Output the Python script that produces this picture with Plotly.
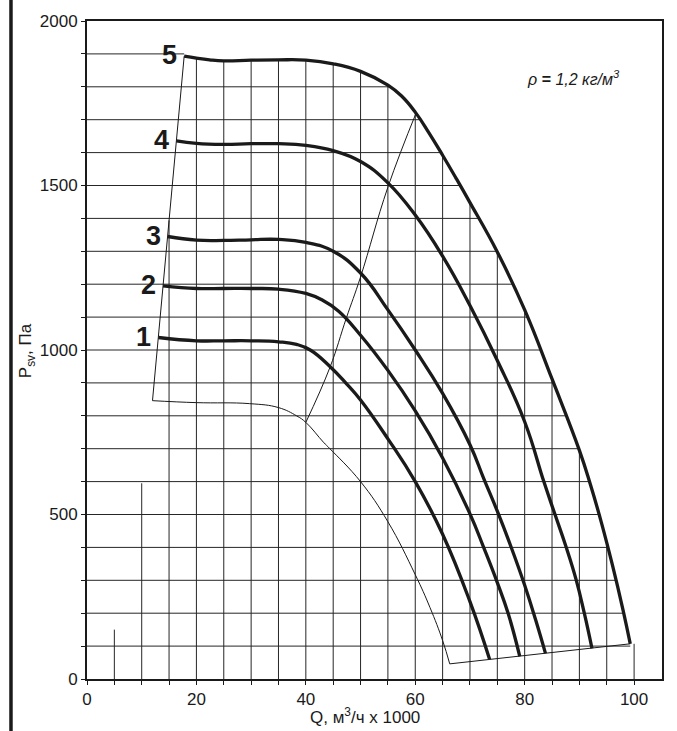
import numpy as np
import plotly.graph_objects as go

# Fan characteristics: Q (thousand m3/h) vs static pressure P_sv (Pa)
q1 = [13.05, 20, 25, 30, 35, 38.3, 40.8, 44.4, 47.4, 50, 55, 60, 65, 70, 73.6]
p1 = [1038, 1028, 1028, 1028, 1025, 1017, 1000, 950, 898, 848, 730, 600, 440, 235, 59]

q2 = [13.9, 20, 25, 30, 35, 40, 43, 46, 50, 55, 60, 65, 70, 72.5, 75, 77, 79.1]
p2 = [1195, 1187, 1187, 1187, 1185, 1172, 1152, 1118, 1045, 938, 815, 672, 502, 400, 293, 198, 69]

q3 = [14.75, 20, 25, 30, 35, 40, 45, 50, 55, 60, 65, 70, 72.5, 75, 77.5, 80, 82, 83.8]
p3 = [1345, 1334, 1333, 1335, 1336, 1327, 1300, 1234, 1122, 1000, 868, 712, 610, 510, 402, 285, 180, 78]

q4 = [16.35, 20, 25, 30, 35, 40, 45, 50, 55, 60, 65, 70, 75, 80, 83.5, 85.5, 87.5, 89.4, 90.9, 92.3]
p4 = [1636, 1628, 1625, 1627, 1627, 1622, 1606, 1573, 1508, 1410, 1285, 1135, 968, 782, 600, 502, 405, 302, 200, 93]

q5 = [17.76, 20, 22.4, 25, 30, 35, 40, 45, 50, 55, 57.5, 60, 62.5, 65, 67.5, 70, 75, 80, 85, 90, 92, 94, 96, 98, 99.3]
p5 = [1893, 1887, 1882, 1879, 1881, 1882, 1881, 1870, 1847, 1805, 1772, 1723, 1660, 1592, 1521, 1448, 1298, 1122, 912, 695, 592, 477, 349, 208, 107]

curve_names = ["1", "2", "3", "4", "5"]

# Lower working-range curve
q_low = [11.97, 20, 29.7, 35, 38.3, 40, 43.2, 44.4, 50, 55, 60, 62.7, 65, 66.3]
p_low = [846, 840, 837, 825, 800, 780, 720, 700, 600, 478, 317, 217, 117, 46]

# Left and bottom limits of the working range
q_left = [11.97, 17.76]
p_left = [846, 1893]
q_bottom = [66.3, 99.3]
p_bottom = [46, 107]

# System line
q_sys = [40, 44.4, 47.4, 50, 55, 60.2]
p_sys = [780, 947, 1097, 1222, 1495, 1722]

# Short grid verticals left of the working range
q_short = [5, 10]
p_short = [150, 595]

x_ticks = list(range(0, 101, 5))
x_labels = [str(v) if v % 20 == 0 else "" for v in x_ticks]
y_ticks = list(range(0, 2001, 100))
y_labels = [str(v) if v % 500 == 0 else "" for v in y_ticks]

INK = "#1a1a1a"
GRID = "#262626"
FONT = "Liberation Sans, Arial, sans-serif"

fig = go.Figure()

# Grid: horizontals run from the axis to curve 5, verticals from 0 up to the envelope
q5a, p5a = np.array(q5), np.array(p5)
i_top = int(np.argmax(q5a >= 40))
desc_q, desc_p = q5a[i_top:], p5a[i_top:]
gx, gy = [], []
for level in y_ticks[1:-1]:
    if level > p5a.max():
        x_end = q5a[0]
    else:
        x_end = float(np.interp(level, desc_p[::-1], desc_q[::-1]))
    gx += [0, x_end, None]
    gy += [level, level, None]
for xv in x_ticks[1:]:
    if xv in q_short:
        top = p_short[q_short.index(xv)]
    elif xv < q5[0]:
        top = float(np.interp(xv, q_left, p_left))
    else:
        top = float(np.interp(xv, q5, p5))
    gx += [xv, xv, None]
    gy += [0, top, None]
fig.add_trace(go.Scatter(x=gx, y=gy, mode="lines", line=dict(color=GRID, width=1),
                         hoverinfo="skip", showlegend=False))

# Thin construction lines
for qs, ps, shape in [(q_low, p_low, "spline"), (q_left, p_left, "linear"),
                      (q_bottom, p_bottom, "linear"), (q_sys, p_sys, "spline")]:
    fig.add_trace(go.Scatter(x=qs, y=ps, mode="lines",
                             line=dict(color=INK, width=1, shape=shape, smoothing=1.2),
                             hoverinfo="skip", showlegend=False))

# Fan curves
curves = [(q1, p1), (q2, p2), (q3, p3), (q4, p4), (q5, p5)]
for name, (qs, ps) in zip(curve_names, curves):
    fig.add_trace(go.Scatter(x=qs, y=ps, mode="lines", name=name,
                             line=dict(color=INK, width=3.3, shape="spline", smoothing=1.3),
                             showlegend=False))
    fig.add_annotation(x=qs[0], y=ps[0], text=f"<b>{name}</b>", showarrow=False,
                       xanchor="right", yanchor="middle", xshift=-5, yshift=1,
                       font=dict(family="Liberation Sans Narrow, Arial Narrow, Liberation Sans",
                                 size=27, color=INK))

fig.add_annotation(x=89.0, y=1828, text="<i>ρ</i> <b>=</b> <i>1,2 кг/м<sup>3</sup></i>",
                   showarrow=False, xanchor="center", yanchor="middle",
                   font=dict(family=FONT, size=16, color=INK))

fig.add_annotation(xref="paper", yref="paper", x=0.4835, y=-0.0557,
                   text="Q, м<sup>3</sup>/ч x 1000", showarrow=False,
                   xanchor="center", yanchor="middle",
                   font=dict(family=FONT, size=17, color=INK))
fig.add_annotation(xref="paper", yref="paper", x=-0.104, y=0.4985,
                   text="P<sub>sv</sub>, Па", textangle=-90, showarrow=False,
                   xanchor="center", yanchor="middle",
                   font=dict(family=FONT, size=17, color=INK))

# Heavy rule at the left edge of the sheet
fig.add_shape(type="line", xref="paper", yref="paper", x0=-0.1322, x1=-0.1322,
              y0=-0.1, y1=1.05, line=dict(color=INK, width=3.5))

axis_common = dict(showgrid=False, zeroline=False, showline=True, linewidth=2,
                   linecolor=INK, mirror=True, ticks="outside", ticklen=4,
                   tickwidth=1, tickcolor=INK,
                   tickfont=dict(family=FONT, size=17, color=INK))
fig.update_xaxes(range=[0, 105.1], tickvals=x_ticks, ticktext=x_labels, **axis_common)
fig.update_yaxes(range=[0, 2000], tickvals=y_ticks, ticktext=y_labels, **axis_common)

fig.update_layout(width=677, height=731, autosize=False,
                  margin=dict(l=87, r=15, t=15, b=52),
                  plot_bgcolor="white", paper_bgcolor="white",
                  showlegend=False)

fig.write_html("out.html")
